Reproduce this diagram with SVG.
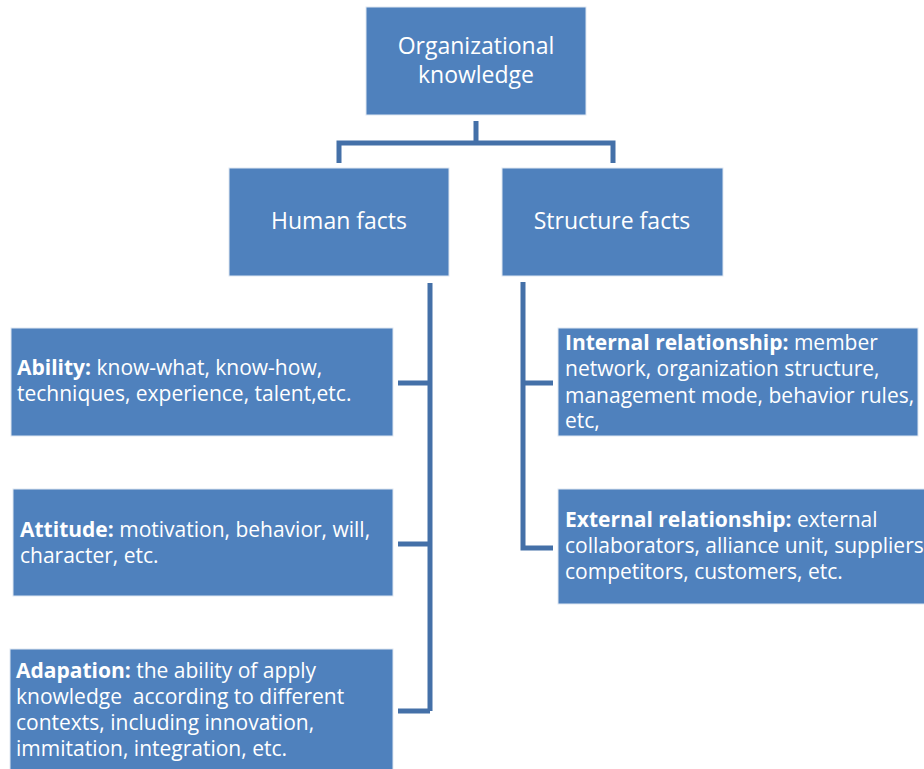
<svg xmlns="http://www.w3.org/2000/svg" width="924" height="769" viewBox="0 0 924 769">
<style>
.box{fill:#4F81BD;stroke:#dfe7f2;stroke-width:1}
.t{font-family:"Open Sans","Liberation Sans",Arial,sans-serif;fill:#ffffff;font-size:21px}
.h{font-size:23px}
.b{font-weight:bold}
.c{fill:none;stroke:#4470A8;stroke-width:5;stroke-linejoin:miter}
</style>
<rect width="924" height="769" fill="#ffffff"/>
<g id="connectors">
<path class="c" d="M476,121 V143 M339,163 V143 H613 V163"/>
<path class="c" d="M430,283 V711 M398,383 H430 M398,544 H430 M398,711 H430"/>
<path class="c" d="M523,282 V548 H553 M523,383 H553"/>
</g>
<g id="org">
<rect class="box" x="366" y="7" width="220" height="108"/>
<text class="t h" x="476" y="54" text-anchor="middle">Organizational</text>
<text class="t h" x="476" y="83" text-anchor="middle">knowledge</text>
</g>
<g id="human">
<rect class="box" x="229" y="168" width="220" height="108"/>
<text class="t h" x="339" y="229" text-anchor="middle">Human facts</text>
</g>
<g id="structure">
<rect class="box" x="502" y="168" width="221" height="108"/>
<text class="t h" x="612" y="229" text-anchor="middle">Structure facts</text>
</g>
<g id="ability">
<rect class="box" x="11" y="328" width="382" height="108"/>
<text class="t" x="17" y="375"><tspan class="b">Ability:</tspan> know-what, know-how,</text>
<text class="t" x="17" y="401">techniques, experience, talent,etc.</text>
</g>
<g id="attitude">
<rect class="box" x="13" y="489" width="380" height="107"/>
<text class="t" x="20" y="537"><tspan class="b">Attitude:</tspan> motivation, behavior, will,</text>
<text class="t" x="20" y="563">character, etc.</text>
</g>
<g id="adapation">
<rect class="box" x="10" y="649" width="383" height="125"/>
<text class="t" x="16" y="678"><tspan class="b">Adapation:</tspan> the ability of apply</text>
<text class="t" x="16" y="704">knowledge&#160; according to different</text>
<text class="t" x="16" y="730">contexts, including innovation,</text>
<text class="t" x="16" y="756">immitation, integration, etc.</text>
</g>
<g id="internal">
<rect class="box" x="558" y="328" width="360" height="108"/>
<text class="t" x="565" y="350"><tspan class="b">Internal relationship:</tspan> member</text>
<text class="t" x="565" y="376">network, organization structure,</text>
<text class="t" x="565" y="403">management mode, behavior rules,</text>
<text class="t" x="565" y="428">etc,</text>
</g>
<g id="external">
<rect class="box" x="558" y="489" width="370" height="115"/>
<text class="t" x="565" y="527"><tspan class="b">External relationship:</tspan> external</text>
<text class="t" x="565" y="553">collaborators, alliance unit, suppliers,</text>
<text class="t" x="565" y="579">competitors, customers, etc.</text>
</g>
</svg>
